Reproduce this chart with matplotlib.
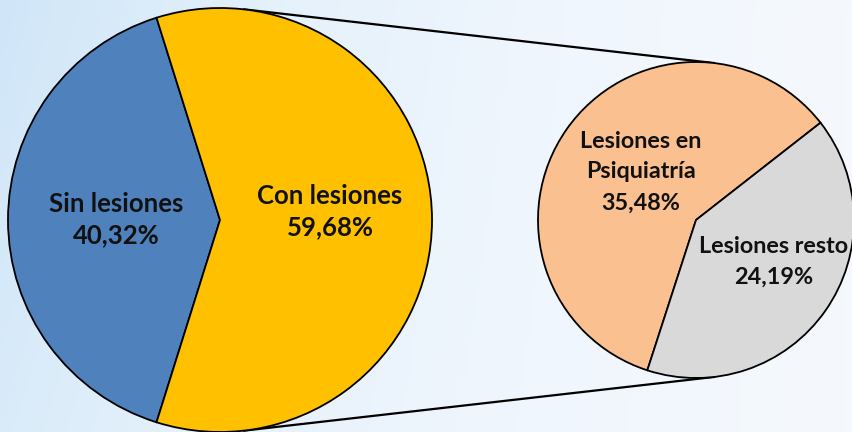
import matplotlib.pyplot as plt
import numpy as np
from matplotlib.colors import LinearSegmentedColormap

# =========================================================
# Data
# =========================================================
main_labels = ["Sin lesiones", "Con lesiones"]
main_values = [40.32, 59.68]
main_colors = ["#4F81BD", "#FFC000"]

sub_labels = ["Lesiones en\nPsiquiatría", "Lesiones resto"]
sub_values = [35.48, 24.19]
sub_colors = ["#FAC090", "#D9D9D9"]

W, H = 853, 432
BIG_C, BIG_R = (220, 212), 212
SUB_C, SUB_R = (696, 212), 158

FONT = ["Lato", "DejaVu Sans"]


def fmt_pct(v: float) -> str:
    return f"{v:.2f}%".replace(".", ",")


def tangent_points(c1, r1, c2, r2, sign):
    # external tangent between two circles on the same horizontal line
    d = c2[0] - c1[0]
    s = (r1 - r2) / d
    c = np.sqrt(1 - s * s)
    p1 = (c1[0] + r1 * s, c1[1] + sign * r1 * c)
    p2 = (c2[0] + r2 * s, c2[1] + sign * r2 * c)
    return p1, p2


fig = plt.figure(figsize=(W / 100, H / 100), dpi=100)
ax = fig.add_axes([0, 0, 1, 1])

# background gradient
bg = LinearSegmentedColormap.from_list(
    "bg", ["#D0E6F8", "#E5F1FB", "#F0F6FD", "#F5F9FE"]
)
gx = np.linspace(0, 1, 256)
gy = np.linspace(0, 1, 64)[:, None]
grad = np.clip(gx[None, :] * 1.0 + 0.15 * gy * (1 - gx[None, :]), 0, 1)
ax.imshow(grad, cmap=bg, extent=(0, W, 0, H), aspect="auto", zorder=0)

# connector lines
for sign in (1, -1):
    p1, p2 = tangent_points(BIG_C, BIG_R, SUB_C, SUB_R, sign)
    ax.plot([p1[0], p2[0]], [p1[1], p2[1]], color="black", lw=1.6, zorder=1)

wedge_kw = dict(edgecolor="black", linewidth=1.3)

# big pie, "Sin lesiones" centred on the left side
start_big = 180 - main_values[0] / 100 * 360 / 2
ax.pie(main_values, colors=main_colors, startangle=start_big, center=BIG_C,
       radius=BIG_R, wedgeprops=wedge_kw, frame=True)

# sub pie
ax.pie(sub_values, colors=sub_colors, startangle=38, center=SUB_C,
       radius=SUB_R, wedgeprops=wedge_kw, frame=True)

txt_kw = dict(ha="center", va="center", fontsize=18.5, fontweight="bold",
              family=FONT, color="#111111", linespacing=1.36, zorder=5)
ax.text(116, H - 220, f"{main_labels[0]}\n{fmt_pct(main_values[0])}", **txt_kw)
ax.text(330, H - 212, f"{main_labels[1]}\n{fmt_pct(main_values[1])}", **txt_kw)

sub_kw = dict(txt_kw, fontsize=16.8, linespacing=1.58)
ax.text(641, H - 172, f"{sub_labels[0]}\n{fmt_pct(sub_values[0])}", **sub_kw)
ax.text(774, H - 262, f"{sub_labels[1]}\n{fmt_pct(sub_values[1])}", **sub_kw)

ax.set_xlim(0, W)
ax.set_ylim(0, H)
ax.set_aspect("auto")
ax.axis("off")

fig.savefig("out.png", dpi=100)
